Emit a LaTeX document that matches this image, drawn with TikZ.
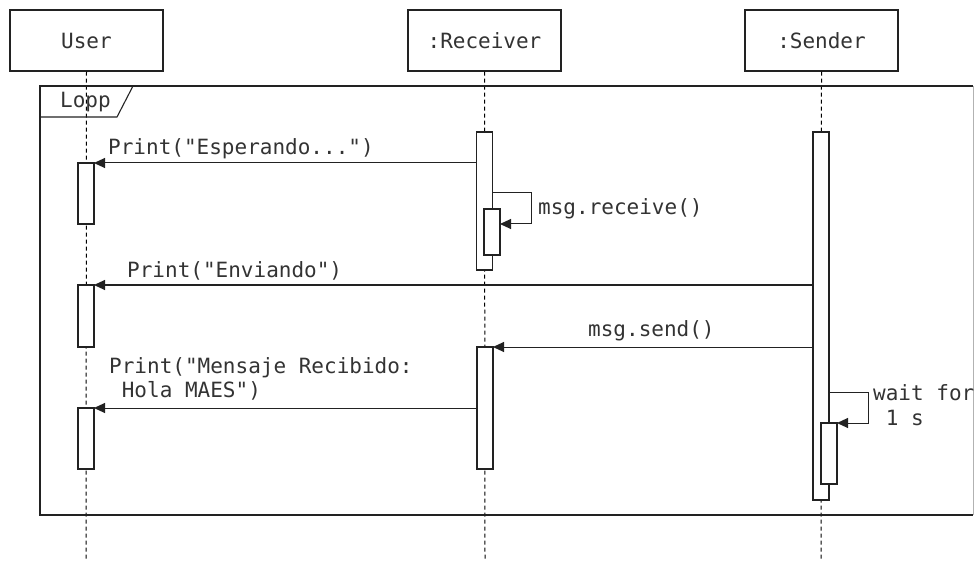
\documentclass[tikz,border=0pt]{standalone}
\usepackage{fontspec}
\setmonofont{DejaVu Sans Mono}
\usetikzlibrary{arrows.meta}
\definecolor{txt}{HTML}{333333}
\definecolor{edge}{HTML}{222222}
\begin{document}
\begin{tikzpicture}[x=1pt,y=-1pt,
  every node/.style={font=\ttfamily\fontsize{21}{25}\selectfont, text=txt},
  head/.style={draw=edge, line width=1.1pt, minimum width=153pt, minimum height=61pt, inner sep=0pt, fill=white},
  lifeline/.style={draw=black, line width=1pt, dash pattern=on 4pt off 3pt},
  act/.style={draw=edge, line width=1.1pt, fill=white, minimum width=16pt, inner sep=0pt, outer sep=0pt},
  msg/.style={draw=edge, line width=1pt, -{Triangle[length=11pt,width=10pt]}},
  lbl/.style={anchor=base west, inner sep=0pt, align=left}
]
\useasboundingbox (0,0) rectangle (974,561);
% heads
\node[head] (user) at (86.5,40.5) {User};
\node[head] (recv) at (484.5,40.5) {:Receiver};
\node[head] (send) at (821.5,40.5) {:Sender};
% lifelines
\coordinate (ue) at (86,561);
\coordinate (re) at (485,561);
\coordinate (se) at (821,561);
\draw[lifeline] (user.south) -- (ue);
\draw[lifeline] (recv.south) -- (re);
\draw[lifeline] (send.south) -- (se);
% loop frame
\draw[edge, line width=1.1pt] (973,86) -- (40,86) -- (40,515) -- (973,515);
\draw[gray!60, line width=1pt] (973.5,86) -- (973.5,515);
\draw[edge, line width=1.1pt] (40,117) -- (117,117) -- (133,86);
\node[lbl] (loop) at (60,108) {Lopp};
% activations
\node[act, minimum height=61pt] (ua1) at (86,193.5) {};
\node[act, minimum height=62pt] (ua2) at (86,316) {};
\node[act, minimum height=61pt] (ua3) at (86,438.5) {};
\node[act, minimum height=138pt] (ra1) at (484.5,201) {};
\node[act, minimum height=46pt] (ra1b) at (492,232) {};
\node[act, minimum height=122pt] (ra2) at (485,408) {};
\node[act, minimum height=368pt] (sa1) at (821,316) {};
\node[act, minimum height=61pt] (sa1b) at (829,453.5) {};
% messages
\draw[msg] (ra1.west |- ua1.north) -- (ua1.north east);
\node[lbl] (m1) at (108,155) {Print("Esperando...")};
\draw[msg] (ra1.east |- 0,193) -- (531,193) |- (ra1b.east |- 0,224);
\node[lbl] (m2) at (538,215) {msg.receive()};
\draw[msg] (sa1.west |- ua2.north) -- (ua2.north east);
\node[lbl] (m3) at (127,277) {Print("Enviando")};
\draw[msg] (sa1.west |- ra2.north) -- (ra2.north east);
\node[lbl] (m4) at (588,336) {msg.send()};
\draw[msg] (ra2.west |- ua3.north) -- (ua3.north east);
\node[lbl] (m5) at (109,373) {Print("Mensaje Recibido:};
\node[lbl] (m5b) at (109,397) {\ Hola MAES")};
\draw[msg] (sa1.east |- 0,392) -- (868,392) |- (sa1b.north east);
\node[lbl] (m6) at (873,400) {wait for};
\node[lbl] (m6b) at (873,425) {\ 1 s};
\end{tikzpicture}
\end{document}
